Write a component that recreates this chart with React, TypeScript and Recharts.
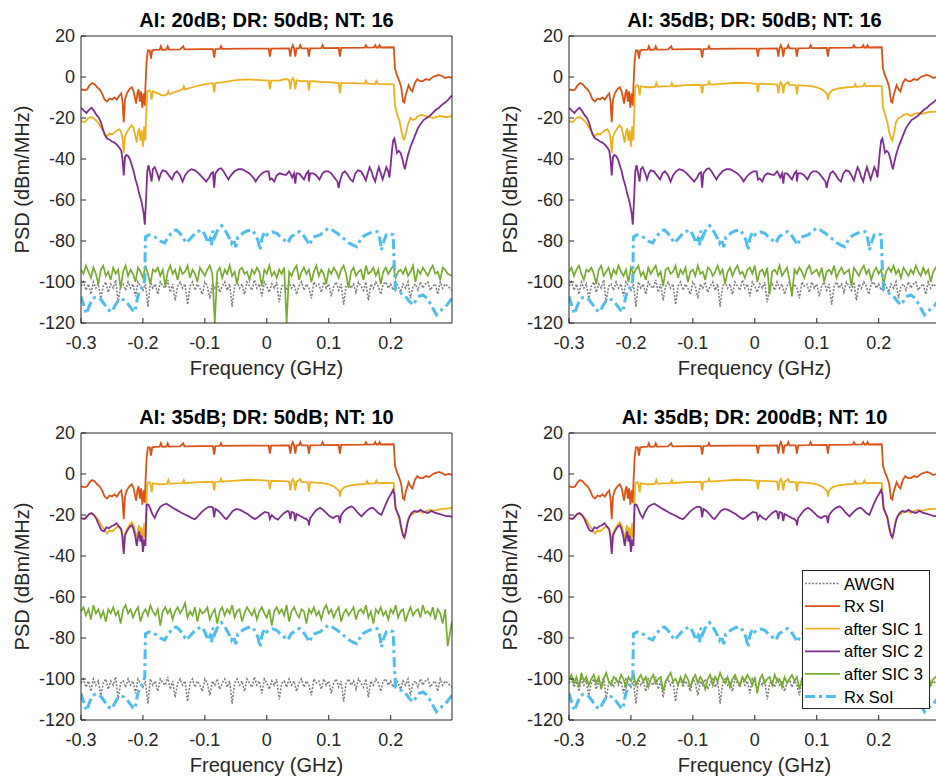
import React from 'react';
import { LineChart, Line, XAxis, YAxis } from 'recharts';

type Pt = [number, number];

const FREQ_TICKS = [-0.3, -0.2, -0.1, 0, 0.1, 0.2];
const PSD_TICKS = [-120, -100, -80, -60, -40, -20, 0, 20];
const FREQ_DOMAIN: [number, number] = [-0.3, 0.299];
const PSD_DOMAIN: [number, number] = [-120, 20];

const TITLES = [
  'AI: 20dB; DR: 50dB; NT: 16',
  'AI: 35dB; DR: 50dB; NT: 16',
  'AI: 35dB; DR: 50dB; NT: 10',
  'AI: 35dB; DR: 200dB; NT: 10',
];
const SERIES_NAMES = ['AWGN', 'Rx SI', 'after SIC 1', 'after SIC 2', 'after SIC 3', 'Rx SoI'];

// frequency grid of the noisy traces (GHz)
const NOISE_FREQ = [
  -0.300, -0.296, -0.292, -0.288, -0.284, -0.280, -0.276, -0.272, -0.268, -0.264,
  -0.260, -0.256, -0.252, -0.248, -0.244, -0.240, -0.236, -0.232, -0.228, -0.224,
  -0.220, -0.216, -0.212, -0.208, -0.204, -0.200, -0.196, -0.192, -0.188, -0.184,
  -0.180, -0.176, -0.172, -0.168, -0.164, -0.160, -0.156, -0.152, -0.148, -0.144,
  -0.140, -0.136, -0.132, -0.128, -0.124, -0.120, -0.116, -0.112, -0.108, -0.104,
  -0.100, -0.096, -0.092, -0.088, -0.084, -0.080, -0.076, -0.072, -0.068, -0.064,
  -0.060, -0.056, -0.052, -0.048, -0.044, -0.040, -0.036, -0.032, -0.028, -0.024,
  -0.020, -0.016, -0.012, -0.008, -0.004, 0.000, 0.004, 0.008, 0.012, 0.016,
  0.020, 0.024, 0.028, 0.032, 0.036, 0.040, 0.044, 0.048, 0.052, 0.056,
  0.060, 0.064, 0.068, 0.072, 0.076, 0.080, 0.084, 0.088, 0.092, 0.096,
  0.100, 0.104, 0.108, 0.112, 0.116, 0.120, 0.124, 0.128, 0.132, 0.136,
  0.140, 0.144, 0.148, 0.152, 0.156, 0.160, 0.164, 0.168, 0.172, 0.176,
  0.180, 0.184, 0.188, 0.192, 0.196, 0.200, 0.204, 0.208, 0.212, 0.216,
  0.220, 0.224, 0.228, 0.232, 0.236, 0.240, 0.244, 0.248, 0.252, 0.256,
  0.260, 0.264, 0.268, 0.272, 0.276, 0.280, 0.284, 0.288, 0.292, 0.299,
];

const AWGN = [
  -102, -100, -104, -101, -106, -100, -103, -101, -108, -102,
  -100, -105, -101, -103, -99, -110, -102, -101, -104, -100,
  -103, -101, -107, -100, -102, -104, -101, -112, -100, -103,
  -101, -106, -100, -102, -103, -99, -105, -101, -109, -102,
  -100, -103, -101, -111, -102, -100, -104, -101, -103, -106,
  -100, -102, -108, -101, -103, -100, -105, -102, -100, -104,
  -101, -112, -102, -100, -103, -101, -106, -100, -102, -104,
  -99, -103, -101, -107, -100, -102, -105, -101, -103, -100,
  -110, -102, -101, -104, -100, -103, -101, -106, -102, -100,
  -104, -101, -103, -108, -100, -102, -101, -105, -100, -103,
  -101, -107, -102, -100, -104, -101, -111, -102, -100, -103,
  -101, -105, -100, -102, -104, -100, -109, -101, -103, -100,
  -102, -106, -101, -100, -103, -101, -104, -100, -102, -105,
  -101, -103, -100, -108, -102, -101, -104, -100, -103, -101,
  -100, -104, -102, -101, -106, -100, -103, -101, -102, -104,
];

const SIC3_P1 = [
  -94, -96, -92, -95, -98, -93, -96, -101, -94, -92,
  -97, -95, -99, -93, -96, -94, -103, -95, -92, -97,
  -94, -96, -100, -93, -95, -98, -92, -96, -101, -94,
  -95, -93, -97, -94, -102, -95, -92, -96, -94, -99,
  -93, -96, -95, -92, -98, -94, -96, -100, -93, -95,
  -97, -94, -92, -96, -120, -95, -93, -98, -94, -96,
  -92, -97, -95, -101, -94, -93, -96, -95, -99, -94,
  -96, -93, -95, -102, -94, -96, -92, -97, -95, -98,
  -94, -96, -93, -120, -95, -97, -94, -92, -99, -95,
  -93, -96, -94, -100, -95, -92, -97, -94, -96, -101,
  -94, -96, -93, -95, -98, -94, -92, -96, -103, -95,
  -93, -97, -95, -94, -99, -92, -96, -95, -93, -97,
  -94, -101, -95, -93, -96, -94, -92, -98, -95, -94,
  -96, -93, -97, -95, -92, -100, -94, -96, -93, -95,
  -97, -94, -92, -96, -95, -99, -93, -94, -96, -97,
];

const SIC3_P2 = [
  -95, -93, -97, -94, -92, -96, -99, -94, -95, -93,
  -96, -101, -94, -92, -97, -95, -93, -98, -94, -96,
  -92, -95, -97, -94, -100, -93, -96, -94, -92, -97,
  -95, -99, -93, -96, -94, -92, -97, -95, -102, -94,
  -93, -96, -95, -92, -98, -94, -96, -93, -100, -95,
  -94, -97, -92, -96, -95, -99, -93, -94, -97, -95,
  -92, -96, -94, -101, -95, -93, -97, -94, -92, -96,
  -95, -98, -94, -93, -96, -92, -100, -95, -94, -97,
  -93, -106, -95, -94, -96, -92, -97, -95, -93, -99,
  -107, -94, -96, -93, -95, -98, -94, -92, -96, -95,
  -94, -97, -93, -100, -95, -94, -96, -92, -98, -95,
  -93, -96, -95, -94, -102, -93, -95, -97, -94, -92,
  -96, -94, -99, -95, -93, -96, -94, -101, -95, -93,
  -95, -92, -96, -94, -98, -93, -95, -97, -94, -96,
  -92, -95, -97, -93, -96, -94, -100, -95, -93, -96,
];

const SIC3_P3 = [
  -67, -65, -69, -66, -71, -64, -68, -66, -70, -67,
  -72, -66, -68, -65, -69, -67, -73, -66, -64, -68,
  -66, -70, -67, -65, -72, -68, -66, -69, -64, -67,
  -69, -66, -74, -67, -65, -68, -66, -71, -67, -65,
  -68, -66, -63, -70, -67, -69, -65, -72, -66, -68,
  -67, -65, -71, -68, -66, -73, -67, -65, -69, -66,
  -68, -64, -70, -67, -66, -72, -68, -65, -67, -69,
  -66, -71, -67, -65, -68, -70, -66, -74, -67, -65,
  -68, -66, -69, -64, -72, -67, -65, -68, -70, -66,
  -67, -73, -66, -68, -65, -69, -67, -71, -66, -64,
  -68, -66, -70, -67, -65, -72, -68, -66, -69, -67,
  -65, -71, -67, -66, -68, -64, -70, -67, -73, -66,
  -68, -65, -69, -67, -71, -66, -68, -64, -70, -67,
  -66, -72, -68, -65, -69, -67, -66, -70, -64, -68,
  -67, -69, -65, -71, -66, -68, -73, -66, -84, -72,
];

const SIC3_P4 = [
  -100, -98, -102, -99, -104, -97, -101, -99, -103, -100,
  -98, -102, -99, -105, -100, -97, -101, -103, -99, -100,
  -102, -98, -100, -104, -99, -101, -97, -103, -100, -98,
  -101, -99, -104, -100, -98, -102, -100, -99, -106, -101,
  -99, -97, -101, -100, -103, -99, -102, -98, -100, -104,
  -100, -98, -102, -99, -101, -105, -100, -98, -103, -99,
  -101, -97, -100, -102, -99, -104, -100, -98, -101, -103,
  -99, -101, -98, -100, -103, -99, -107, -100, -98, -102,
  -100, -99, -103, -98, -101, -100, -104, -99, -102, -100,
  -98, -101, -99, -105, -100, -102, -99, -101, -103, -100,
  -99, -102, -100, -98, -101, -108, -100, -99, -103, -101,
  -100, -98, -102, -99, -104, -100, -101, -98, -102, -99,
  -101, -103, -99, -100, -98, -102, -100, -105, -99, -101,
  -100, -99, -102, -98, -101, -103, -100, -99, -104, -100,
  -98, -101, -99, -102, -100, -97, -103, -100, -99, -101,
];

const RX_SI: Pt[] = [
  [-0.300, -6], [-0.294, -6.5], [-0.290, -6], [-0.286, -4], [-0.282, -3], [-0.278, -3.5],
  [-0.274, -5], [-0.270, -6], [-0.266, -8], [-0.262, -11], [-0.258, -12], [-0.254, -10.5],
  [-0.250, -11], [-0.246, -10], [-0.242, -11], [-0.238, -9], [-0.235, -8], [-0.233, -12],
  [-0.231, -22], [-0.229, -11], [-0.226, -8], [-0.222, -6], [-0.218, -5], [-0.215, -7],
  [-0.213, -10], [-0.211, -13], [-0.209, -8], [-0.207, -6], [-0.205, -12], [-0.203, -7],
  [-0.201, -15], [-0.199, -8], [-0.197, -14], [-0.196, -5], [-0.194, 8], [-0.192, 13],
  [-0.189, 13], [-0.187, 9], [-0.185, 13], [-0.180, 13.2], [-0.173, 13.3], [-0.171, 15],
  [-0.169, 13.3], [-0.162, 13.4], [-0.160, 15], [-0.158, 13.4], [-0.140, 13.5], [-0.135, 15],
  [-0.133, 13.5], [-0.100, 13.6], [-0.087, 13.6], [-0.085, 9.5], [-0.083, 13.6], [-0.076, 13.7],
  [-0.074, 15], [-0.072, 13.7], [-0.030, 13.8], [0.003, 13.8], [0.005, 10], [0.007, 13.8],
  [0.036, 13.9], [0.038, 10], [0.040, 14], [0.042, 15.5], [0.044, 14], [0.046, 10],
  [0.048, 14], [0.052, 14], [0.054, 15.5], [0.056, 14], [0.066, 14], [0.068, 10],
  [0.070, 14], [0.088, 14.1], [0.090, 15.5], [0.092, 14.1], [0.116, 14.2], [0.118, 10],
  [0.120, 14.2], [0.158, 14.3], [0.160, 15.5], [0.162, 14.3], [0.173, 14.4], [0.175, 15.5],
  [0.177, 14.4], [0.180, 14.4], [0.182, 15.5], [0.184, 14.4], [0.205, 14.5], [0.207, 4],
  [0.210, 1], [0.214, -2], [0.217, -5], [0.220, -12], [0.222, -12.5], [0.224, -9],
  [0.226, -7], [0.229, -4], [0.232, -6], [0.235, -7], [0.239, -3], [0.243, -1],
  [0.247, -2], [0.252, -2], [0.257, -1], [0.262, -1.5], [0.268, 0], [0.273, 0.5],
  [0.278, 1], [0.283, 0.5], [0.288, -0.5], [0.293, 0], [0.299, -0.3],
];

const SIC1_LEFT: Pt[] = [
  [-0.300, -21.5], [-0.294, -22], [-0.288, -20], [-0.283, -19.5], [-0.278, -20.5], [-0.273, -22],
  [-0.268, -24.5], [-0.263, -27], [-0.258, -29], [-0.254, -27.5], [-0.250, -28], [-0.246, -27],
  [-0.242, -26], [-0.238, -25.5], [-0.235, -27], [-0.233, -30], [-0.231, -37], [-0.229, -29],
  [-0.226, -27], [-0.222, -25], [-0.218, -23.5], [-0.215, -25], [-0.212, -29], [-0.210, -32],
  [-0.208, -27], [-0.206, -25], [-0.204, -31], [-0.202, -26], [-0.200, -34], [-0.198, -24],
  [-0.196, -31], [-0.195, -20],
];

const SIC1_BAND_P1: Pt[] = [
  [-0.193, -7], [-0.190, -6.5], [-0.188, -7], [-0.186, -11], [-0.184, -7], [-0.180, -7.5],
  [-0.175, -8], [-0.170, -9], [-0.165, -9], [-0.161, -8.5], [-0.159, -7], [-0.157, -8.3],
  [-0.150, -7.5], [-0.140, -6.5], [-0.136, -6], [-0.134, -4.5], [-0.132, -6], [-0.120, -5],
  [-0.100, -3.5], [-0.087, -3], [-0.085, -7.5], [-0.083, -3], [-0.070, -2.5], [-0.050, -1.5],
  [-0.030, -1.2], [-0.010, -1.5], [0.003, -1.8], [0.005, -6], [0.007, -1.8], [0.020, -1.8],
  [0.030, -1], [0.036, -1.5], [0.038, -6], [0.040, -1.5], [0.042, -0.5], [0.044, -1.6],
  [0.046, -6], [0.048, -1.6], [0.055, -2], [0.066, -2], [0.068, -6.5], [0.070, -2],
  [0.080, -2.2], [0.090, -2.5], [0.100, -2.5], [0.110, -2.8], [0.116, -3], [0.118, -8],
  [0.120, -3], [0.140, -3], [0.158, -3.2], [0.160, -1.8], [0.162, -3.2], [0.175, -3.4],
  [0.177, -2], [0.179, -3.4], [0.190, -3.5], [0.205, -3.6], [0.207, -14], [0.211, -19],
  [0.214, -21], [0.217, -26], [0.220, -30], [0.222, -30.5], [0.225, -27], [0.228, -23],
  [0.232, -20], [0.236, -21], [0.240, -20.5], [0.244, -19], [0.250, -18.5], [0.256, -19],
  [0.262, -19.5], [0.268, -20], [0.274, -19.5], [0.280, -19], [0.286, -19.5], [0.292, -19.5],
  [0.299, -19],
];

const SIC1_BAND_OTHER: Pt[] = [
  [-0.193, -4.5], [-0.190, -4], [-0.188, -4.5], [-0.186, -9], [-0.184, -4.5], [-0.175, -5],
  [-0.170, -5], [-0.161, -4.8], [-0.159, -3], [-0.157, -4.8], [-0.150, -4.6], [-0.136, -4.5],
  [-0.134, -3], [-0.132, -4.5], [-0.110, -4], [-0.087, -3.8], [-0.085, -8], [-0.083, -3.8],
  [-0.076, -3.7], [-0.074, -2.3], [-0.072, -3.7], [-0.050, -3.2], [-0.030, -2.8], [-0.010, -3],
  [0.003, -3.3], [0.005, -7.5], [0.007, -3.3], [0.025, -3.5], [0.036, -3.7], [0.038, -8],
  [0.040, -3.7], [0.042, -2.5], [0.044, -3.8], [0.046, -8], [0.048, -3.8], [0.054, -2.5],
  [0.056, -4], [0.066, -4], [0.068, -8.5], [0.070, -4], [0.090, -4.5], [0.100, -5],
  [0.108, -6], [0.114, -7.5], [0.117, -8.5], [0.118, -11], [0.120, -8], [0.125, -6.5],
  [0.135, -5.5], [0.150, -5], [0.160, -4.8], [0.162, -3.5], [0.164, -4.8], [0.175, -4.5],
  [0.177, -3.2], [0.179, -4.5], [0.190, -4.3], [0.205, -4.5], [0.207, -15], [0.211, -19],
  [0.214, -22], [0.217, -27], [0.220, -30], [0.222, -31], [0.225, -27], [0.228, -22],
  [0.232, -20], [0.236, -19.5], [0.240, -18.5], [0.246, -18], [0.252, -19], [0.258, -18],
  [0.264, -17.5], [0.270, -18], [0.276, -17.5], [0.282, -17], [0.288, -17], [0.294, -16.8],
  [0.299, -16.5],
];

const SIC2_DEEP: Pt[] = [
  [-0.300, -15], [-0.295, -16.5], [-0.291, -17.5], [-0.287, -16], [-0.283, -15], [-0.279, -16.5],
  [-0.275, -18.5], [-0.271, -20], [-0.268, -22], [-0.265, -25], [-0.262, -28], [-0.258, -30],
  [-0.254, -30.5], [-0.250, -31.5], [-0.246, -32], [-0.242, -33], [-0.238, -34.5], [-0.235, -36],
  [-0.233, -40], [-0.231, -48], [-0.229, -39], [-0.227, -38], [-0.224, -38.5], [-0.221, -40],
  [-0.218, -43], [-0.215, -46], [-0.212, -50], [-0.209, -53], [-0.206, -57], [-0.203, -60],
  [-0.201, -63], [-0.199, -66], [-0.197, -72], [-0.195, -60], [-0.193, -46], [-0.191, -43],
  [-0.189, -46], [-0.186, -51], [-0.184, -45], [-0.181, -44], [-0.177, -47], [-0.174, -50],
  [-0.171, -47], [-0.168, -45.5], [-0.163, -46], [-0.158, -48], [-0.153, -50], [-0.149, -47],
  [-0.145, -46], [-0.140, -48], [-0.136, -51], [-0.132, -48], [-0.127, -46], [-0.122, -45],
  [-0.116, -45.5], [-0.110, -47], [-0.104, -49], [-0.098, -51], [-0.093, -49], [-0.090, -47],
  [-0.087, -46.5], [-0.085, -54], [-0.083, -47], [-0.078, -45], [-0.074, -44.5], [-0.070, -46],
  [-0.066, -48], [-0.062, -50], [-0.058, -48], [-0.052, -46], [-0.046, -45], [-0.040, -45],
  [-0.034, -46], [-0.028, -47], [-0.022, -49], [-0.018, -51], [-0.014, -49], [-0.008, -47],
  [-0.002, -46], [0.003, -46], [0.005, -50], [0.008, -49.5], [0.012, -51], [0.016, -48],
  [0.021, -47], [0.026, -47.5], [0.031, -47.8], [0.036, -46], [0.038, -47], [0.041, -49],
  [0.044, -47], [0.046, -52], [0.048, -47], [0.052, -47], [0.056, -48.5], [0.060, -50],
  [0.064, -47], [0.067, -46], [0.068, -51], [0.070, -47], [0.075, -47], [0.080, -48],
  [0.085, -50], [0.090, -47], [0.094, -46], [0.099, -46], [0.104, -47], [0.109, -49],
  [0.114, -51], [0.116, -54], [0.118, -51], [0.122, -47], [0.126, -46], [0.130, -47.5],
  [0.135, -50], [0.139, -51], [0.143, -47], [0.147, -45.5], [0.152, -46], [0.156, -48],
  [0.160, -50.5], [0.163, -47], [0.166, -44], [0.169, -46], [0.172, -49], [0.175, -51],
  [0.178, -47], [0.181, -44], [0.184, -47], [0.187, -50], [0.190, -47], [0.193, -44],
  [0.196, -46], [0.198, -49], [0.200, -43], [0.202, -36], [0.204, -31], [0.206, -30],
  [0.208, -33], [0.210, -37], [0.213, -36], [0.216, -37], [0.219, -40], [0.221, -43],
  [0.223, -45], [0.225, -42], [0.228, -38], [0.232, -34], [0.236, -31], [0.240, -28],
  [0.244, -25], [0.248, -23], [0.253, -21], [0.258, -20], [0.263, -19], [0.268, -17.5],
  [0.273, -16], [0.278, -15], [0.283, -13.5], [0.288, -12.5], [0.293, -11], [0.299, -9],
];

const SIC2_SHALLOW: Pt[] = [
  [-0.300, -21.5], [-0.295, -22], [-0.291, -21], [-0.287, -19.5], [-0.283, -19], [-0.279, -20],
  [-0.275, -22], [-0.271, -25], [-0.267, -27.5], [-0.263, -28], [-0.259, -26], [-0.255, -26.5],
  [-0.251, -25.5], [-0.247, -25], [-0.243, -24], [-0.239, -25.5], [-0.235, -27], [-0.233, -31],
  [-0.231, -39], [-0.229, -30], [-0.226, -28], [-0.222, -26], [-0.218, -25], [-0.215, -27],
  [-0.212, -31], [-0.210, -35], [-0.208, -31], [-0.206, -28], [-0.204, -33], [-0.202, -30],
  [-0.200, -38], [-0.198, -32], [-0.196, -35], [-0.195, -24], [-0.194, -15], [-0.191, -15],
  [-0.188, -17], [-0.185, -19.5], [-0.181, -21.5], [-0.177, -18.5], [-0.172, -16], [-0.167, -15],
  [-0.162, -14.5], [-0.157, -15.5], [-0.152, -16.5], [-0.146, -17.5], [-0.140, -18.5], [-0.134, -19.5],
  [-0.127, -20.5], [-0.121, -21.5], [-0.116, -22], [-0.111, -20.5], [-0.105, -18.5], [-0.099, -17],
  [-0.094, -16], [-0.089, -16], [-0.087, -16.5], [-0.085, -21], [-0.083, -17], [-0.078, -18],
  [-0.072, -20], [-0.068, -21.5], [-0.065, -22], [-0.060, -20], [-0.055, -18], [-0.049, -17],
  [-0.043, -17.5], [-0.037, -18.5], [-0.031, -19.5], [-0.025, -21], [-0.019, -22], [-0.014, -21],
  [-0.008, -19.5], [-0.003, -18.5], [0.003, -19], [0.005, -22], [0.008, -20], [0.013, -21.5],
  [0.018, -22.3], [0.023, -20.5], [0.028, -19], [0.034, -18], [0.036, -18.5], [0.038, -22],
  [0.040, -18.5], [0.044, -19], [0.046, -23], [0.048, -19.5], [0.054, -20.5], [0.060, -21.5],
  [0.064, -22], [0.067, -23], [0.068, -25], [0.070, -21.5], [0.075, -19.5], [0.080, -17.5],
  [0.086, -16.5], [0.091, -17.5], [0.096, -19], [0.101, -20.5], [0.107, -21.5], [0.112, -20.5],
  [0.116, -20.5], [0.118, -24], [0.120, -20], [0.125, -18], [0.131, -16.5], [0.137, -15.8],
  [0.142, -17], [0.147, -19], [0.153, -20.7], [0.158, -19], [0.163, -17.5], [0.167, -16.8],
  [0.171, -16.5], [0.175, -17.5], [0.180, -19], [0.185, -20], [0.189, -17], [0.193, -14],
  [0.197, -11.5], [0.201, -9.5], [0.204, -7.7], [0.206, -10], [0.208, -17], [0.211, -19],
  [0.214, -21], [0.217, -26], [0.220, -30], [0.222, -31], [0.224, -29], [0.227, -24],
  [0.230, -21], [0.234, -19], [0.238, -18], [0.243, -18.5], [0.248, -17.5], [0.254, -18.5],
  [0.260, -19], [0.266, -18], [0.272, -19], [0.278, -19.5], [0.284, -20], [0.290, -20.5],
  [0.295, -20.5], [0.299, -21],
];

const RX_SOI: Pt[] = [
  [-0.300, -107], [-0.297, -110], [-0.294, -113], [-0.291, -115.5], [-0.287, -112], [-0.283, -109],
  [-0.278, -107.5], [-0.273, -107.5], [-0.268, -108.5], [-0.263, -110.5], [-0.258, -112.5], [-0.254, -114],
  [-0.250, -114.5], [-0.246, -112], [-0.241, -109.5], [-0.236, -108.5], [-0.231, -108.7], [-0.226, -110],
  [-0.221, -112], [-0.216, -114], [-0.213, -114.5], [-0.209, -108], [-0.205, -104], [-0.202, -103],
  [-0.199, -101], [-0.197, -99], [-0.196, -78], [-0.190, -77], [-0.184, -77.5], [-0.178, -78.5],
  [-0.172, -80], [-0.165, -81], [-0.160, -78.5], [-0.155, -76.5], [-0.150, -75], [-0.146, -74.6],
  [-0.141, -76], [-0.136, -78], [-0.130, -81], [-0.124, -79], [-0.118, -77], [-0.112, -75.5],
  [-0.105, -74.6], [-0.100, -77], [-0.095, -81], [-0.092, -79], [-0.089, -82], [-0.087, -75],
  [-0.084, -78], [-0.080, -75], [-0.073, -72.5], [-0.068, -74.5], [-0.063, -77], [-0.060, -79],
  [-0.057, -81], [-0.054, -79], [-0.050, -83], [-0.047, -78], [-0.042, -77], [-0.038, -76],
  [-0.031, -75], [-0.024, -74.6], [-0.018, -77], [-0.014, -80], [-0.011, -84.5], [-0.008, -79],
  [-0.004, -75.5], [0.000, -77], [0.004, -76], [0.009, -75.5], [0.016, -76.2], [0.022, -78],
  [0.028, -79.5], [0.034, -81], [0.039, -78], [0.044, -77], [0.048, -76], [0.053, -75.4],
  [0.057, -76.5], [0.061, -78], [0.065, -80], [0.069, -82], [0.073, -79], [0.077, -78],
  [0.081, -77.5], [0.086, -77], [0.092, -75.5], [0.099, -73.8], [0.105, -74.5], [0.110, -75.5],
  [0.115, -76.5], [0.121, -78], [0.127, -79.5], [0.133, -81], [0.139, -82], [0.145, -82.8],
  [0.150, -80], [0.155, -78], [0.160, -77], [0.166, -76.2], [0.172, -75.5], [0.178, -75.4],
  [0.181, -77], [0.183, -80], [0.185, -84.5], [0.189, -80], [0.193, -77], [0.198, -76.2],
  [0.204, -77], [0.206, -94], [0.208, -104], [0.212, -105], [0.217, -105.5], [0.223, -106.5],
  [0.229, -109], [0.236, -111.2], [0.241, -109], [0.246, -107], [0.252, -106.3], [0.257, -107.5],
  [0.263, -110], [0.268, -112.8], [0.274, -116], [0.279, -114.5], [0.284, -113], [0.289, -112],
  [0.295, -109.5], [0.299, -108],
];

// ---------- styling ----------
const FONT = '"Liberation Sans", Arial, Helvetica, sans-serif';
const AXIS_COLOR = '#262626';
const STYLES = [
  { color: '#808080', width: 1.6, dash: '2 1.5' },
  { color: '#D95319', width: 1.8, dash: undefined },
  { color: '#EDB120', width: 1.8, dash: undefined },
  { color: '#7E2F8E', width: 1.8, dash: undefined },
  { color: '#77AC30', width: 1.7, dash: undefined },
  { color: '#4DBEEE', width: 3, dash: '10 4 3 4' },
];

const toRows = (pts: Pt[]) => pts.map(([f, v]) => ({ f, v }));
const noiseRows = (vals: number[]) => NOISE_FREQ.map((f, i) => ({ f, v: vals[i] }));

const PANEL_W = 470;
const PANEL_H = 390;
const PLOT_L = 81;
const PLOT_T = 36;
const PLOT_W = 371;
const PLOT_H = 287;
const Y_AXIS_W = 60;
const X_AXIS_H = 30;

type PanelProps = {
  left: number;
  top: number;
  series: { f: number; v: number }[][];
};

function Panel({ left, top, series }: PanelProps) {
  return (
    <div style={{ position: 'absolute', left, top, width: PANEL_W, height: PANEL_H }}>
      <LineChart
        width={PANEL_W}
        height={PANEL_H}
        margin={{
          top: PLOT_T - 1,
          right: PANEL_W - PLOT_L - PLOT_W - 1,
          bottom: PANEL_H - PLOT_T - PLOT_H - X_AXIS_H,
          left: PLOT_L - Y_AXIS_W,
        }}
      >
        <XAxis
          xAxisId={0}
          dataKey="f"
          type="number"
          domain={FREQ_DOMAIN}
          allowDataOverflow
          ticks={FREQ_TICKS}
          interval={0}
          height={X_AXIS_H}
          stroke={AXIS_COLOR}
          tickSize={-5}
          tickMargin={18}
          tickFormatter={(v: number) => String(v)}
          tick={{ fill: AXIS_COLOR, fontSize: 18, fontFamily: FONT }}
        />
        <XAxis
          xAxisId="top"
          orientation="top"
          dataKey="f"
          type="number"
          domain={FREQ_DOMAIN}
          allowDataOverflow
          ticks={FREQ_TICKS}
          interval={0}
          height={1}
          stroke={AXIS_COLOR}
          tickSize={-5}
          tick={false}
        />
        <YAxis
          yAxisId={0}
          type="number"
          domain={PSD_DOMAIN}
          allowDataOverflow
          ticks={PSD_TICKS}
          interval={0}
          width={Y_AXIS_W}
          stroke={AXIS_COLOR}
          tickSize={-5}
          tickMargin={11}
          tick={{ fill: AXIS_COLOR, fontSize: 18, fontFamily: FONT }}
        />
        <YAxis
          yAxisId="right"
          orientation="right"
          type="number"
          domain={PSD_DOMAIN}
          allowDataOverflow
          ticks={PSD_TICKS}
          interval={0}
          width={1}
          stroke={AXIS_COLOR}
          tickSize={-5}
          tick={false}
        />
        {series.map((rows, i) => (
          <Line
            key={SERIES_NAMES[i]}
            name={SERIES_NAMES[i]}
            data={rows}
            dataKey="v"
            xAxisId={0}
            yAxisId={0}
            type="linear"
            stroke={STYLES[i].color}
            strokeWidth={STYLES[i].width}
            strokeDasharray={STYLES[i].dash}
            dot={false}
            activeDot={false}
            isAnimationActive={false}
          />
        ))}
      </LineChart>
    </div>
  );
}

const PANELS = [
  { left: 0, top: 0, sic1: [...SIC1_LEFT, ...SIC1_BAND_P1], sic2: SIC2_DEEP, sic3: SIC3_P1 },
  { left: 488, top: 0, sic1: [...SIC1_LEFT, ...SIC1_BAND_OTHER], sic2: SIC2_DEEP, sic3: SIC3_P2 },
  { left: 0, top: 397, sic1: [...SIC1_LEFT, ...SIC1_BAND_OTHER], sic2: SIC2_SHALLOW, sic3: SIC3_P3 },
  { left: 488, top: 397, sic1: [...SIC1_LEFT, ...SIC1_BAND_OTHER], sic2: SIC2_SHALLOW, sic3: SIC3_P4 },
];

export default function App() {
  const legendTop = 572;
  const rowH = 22.6;
  return (
    <div
      style={{
        position: 'absolute',
        left: 0,
        top: 0,
        width: 936,
        height: 780,
        overflow: 'hidden',
        background: '#ffffff',
        fontFamily: FONT,
      }}
    >
      {PANELS.map((p, k) => (
        <Panel
          key={k}
          left={p.left}
          top={p.top}
          series={[
            noiseRows(AWGN),
            toRows(RX_SI),
            toRows(p.sic1),
            toRows(p.sic2),
            noiseRows(p.sic3),
            toRows(RX_SOI),
          ]}
        />
      ))}
      <svg
        width={936}
        height={780}
        style={{ position: 'absolute', left: 0, top: 0, pointerEvents: 'none' }}
      >
        {PANELS.map((p, k) => (
          <g key={k} fontFamily={FONT} fill={AXIS_COLOR}>
            <text
              x={p.left + PLOT_L + PLOT_W / 2}
              y={p.top + 27}
              textAnchor="middle"
              fontSize={20}
              fontWeight="bold"
              fill="#000"
            >
              {TITLES[k]}
            </text>
            <text x={p.left + PLOT_L + PLOT_W / 2} y={p.top + 375} textAnchor="middle" fontSize={20}>
              Frequency (GHz)
            </text>
            <text
              transform={`translate(${p.left + 22},${p.top + PLOT_T + PLOT_H / 2}) rotate(-90)`}
              textAnchor="middle"
              dominantBaseline="central"
              fontSize={20}
            >
              PSD (dBm/MHz)
            </text>
          </g>
        ))}
        <rect x={802.5} y={570.5} width={127} height={138} fill="#ffffff" stroke={AXIS_COLOR} strokeWidth={1} />
        {SERIES_NAMES.map((name, i) => {
          const cy = legendTop + 11.5 + i * rowH;
          return (
            <g key={name}>
              <line
                x1={805}
                x2={840}
                y1={cy}
                y2={cy}
                stroke={STYLES[i].color}
                strokeWidth={STYLES[i].width}
                strokeDasharray={STYLES[i].dash}
              />
              <text x={844} y={cy} dominantBaseline="central" fontSize={16.5} fontFamily={FONT} fill="#000">
                {name}
              </text>
            </g>
          );
        })}
      </svg>
    </div>
  );
}
